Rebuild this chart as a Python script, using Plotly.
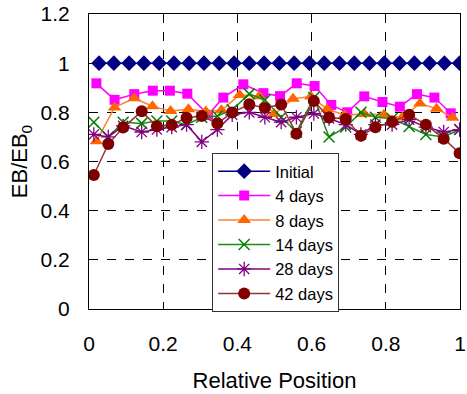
import plotly.graph_objects as go

# ---- data ----
x_initial = [0.027, 0.067, 0.108, 0.148, 0.189, 0.229, 0.270, 0.310, 0.351, 0.391,
             0.432, 0.472, 0.513, 0.553, 0.594, 0.634, 0.675, 0.715, 0.756, 0.796,
             0.837, 0.877, 0.918, 0.958, 0.999]
y_initial = [1.0] * 25

x_4d = [0.020, 0.069, 0.122, 0.172, 0.218, 0.265, 0.321, 0.362, 0.416, 0.470, 0.515,
        0.560, 0.608, 0.653, 0.696, 0.742, 0.791, 0.838, 0.884, 0.931, 0.975]
y_4d = [0.918, 0.851, 0.874, 0.888, 0.888, 0.876, 0.790, 0.860, 0.914, 0.878, 0.866,
        0.918, 0.907, 0.830, 0.800, 0.865, 0.842, 0.823, 0.874, 0.860, 0.796]

x_8d = [0.020, 0.069, 0.122, 0.171, 0.220, 0.268, 0.315, 0.357, 0.406, 0.459, 0.499,
        0.550, 0.598, 0.642, 0.689, 0.742, 0.795, 0.844, 0.892, 0.937, 0.980]
y_8d = [0.682, 0.820, 0.857, 0.825, 0.805, 0.813, 0.803, 0.808, 0.871, 0.865, 0.793,
        0.855, 0.864, 0.813, 0.789, 0.793, 0.790, 0.779, 0.836, 0.815, 0.778]

x_dense = [0.013, 0.052, 0.092, 0.142, 0.183, 0.223, 0.263, 0.304, 0.346, 0.386,
           0.432, 0.474, 0.518, 0.559, 0.606, 0.647, 0.692, 0.733, 0.772, 0.817,
           0.863, 0.908, 0.956, 0.999]
y_14d = [0.760, 0.700, 0.760, 0.755, 0.765, 0.765, 0.750, 0.780, 0.785, 0.810,
         0.875, 0.850, 0.780, 0.720, 0.860, 0.700, 0.740, 0.800, 0.780, 0.775,
         0.742, 0.710, 0.700, 0.730]
y_28d = [0.710, 0.700, 0.745, 0.720, 0.730, 0.740, 0.750, 0.680, 0.730, 0.790,
         0.800, 0.780, 0.760, 0.780, 0.795, 0.775, 0.750, 0.710, 0.750, 0.750,
         0.770, 0.740, 0.720, 0.730]
y_42d = [0.545, 0.671, 0.738, 0.804, 0.743, 0.749, 0.778, 0.785, 0.755, 0.799,
         0.833, 0.818, 0.832, 0.713, 0.846, 0.779, 0.773, 0.705, 0.739, 0.762,
         0.790, 0.750, 0.693, 0.634]

x_ticks = [0, 0.2, 0.4, 0.6, 0.8, 1]
x_ticklabels = ["0", "0.2", "0.4", "0.6", "0.8", "1"]
y_ticks = [0, 0.2, 0.4, 0.6, 0.8, 1.0, 1.2]
y_ticklabels = ["0", "0.2", "0.4", "0.6", "0.8", "1", "1.2"]

FONT = "Liberation Sans, Arial, sans-serif"

fig = go.Figure()

series = [
    ("Initial", x_initial, y_initial, "#000080", "#000080", "diamond", 12, 0),
    ("4 days", x_4d, y_4d, "#FF00FF", "#FF00FF", "square", 10, 0),
    ("8 days", x_8d, y_8d, "#FF8033", "#FF6600", "triangle-up", 12, 0),
    ("14 days", x_dense, y_14d, "#1A8C1A", "#008000", "x-thin-open", 11, 1.5),
    ("28 days", x_dense, y_28d, "#800080", "#800080", "asterisk-open", 12, 1.3),
    ("42 days", x_dense, y_42d, "#993333", "#800000", "circle", 12, 0),
]

for name, xs, ys, lc, mc, sym, size, mlw in series:
    marker = dict(symbol=sym, size=size, color=mc)
    if mlw:
        marker["line"] = dict(color=mc, width=mlw)
    else:
        marker["line"] = dict(width=0)
    fig.add_trace(go.Scatter(
        x=xs, y=ys, name=name, mode="lines+markers",
        line=dict(color=lc, width=1.5), marker=marker,
    ))

fig.update_layout(
    width=467, height=394,
    margin=dict(l=89, r=1, t=14, b=85),
    paper_bgcolor="white", plot_bgcolor="white",
    font=dict(family=FONT, size=21, color="black"),
    showlegend=True,
    legend=dict(
        x=0.332, y=0.529, xanchor="left", yanchor="top",
        bgcolor="white", bordercolor="#333333", borderwidth=1,
        font=dict(family=FONT, size=16.5, color="black"),
        itemwidth=52, tracegroupgap=0,
    ),
)

fig.update_xaxes(
    range=[0, 1], tickvals=x_ticks, ticktext=x_ticklabels,
    showline=True, linecolor="black", linewidth=1, mirror=True,
    ticks="inside", ticklen=5, tickcolor="black",
    showgrid=True, gridcolor="black", gridwidth=1, griddash="dash",
    zeroline=False, ticklabelstandoff=16, ticklabeloverflow="allow",
    tickfont=dict(size=21),
    title=dict(text="Relative Position", standoff=18, font=dict(size=22)),
)
fig.update_yaxes(
    range=[0, 1.2], tickvals=y_ticks, ticktext=y_ticklabels,
    showline=True, linecolor="black", linewidth=1, mirror=True,
    ticks="inside", ticklen=5, tickcolor="black",
    showgrid=True, gridcolor="black", gridwidth=1, griddash="dash",
    zeroline=False, ticklabelstandoff=14,
    tickfont=dict(size=21),
    title=dict(text="EB/EB<sub>0</sub>", standoff=6, font=dict(size=22)),
)

fig.write_html("out.html")
